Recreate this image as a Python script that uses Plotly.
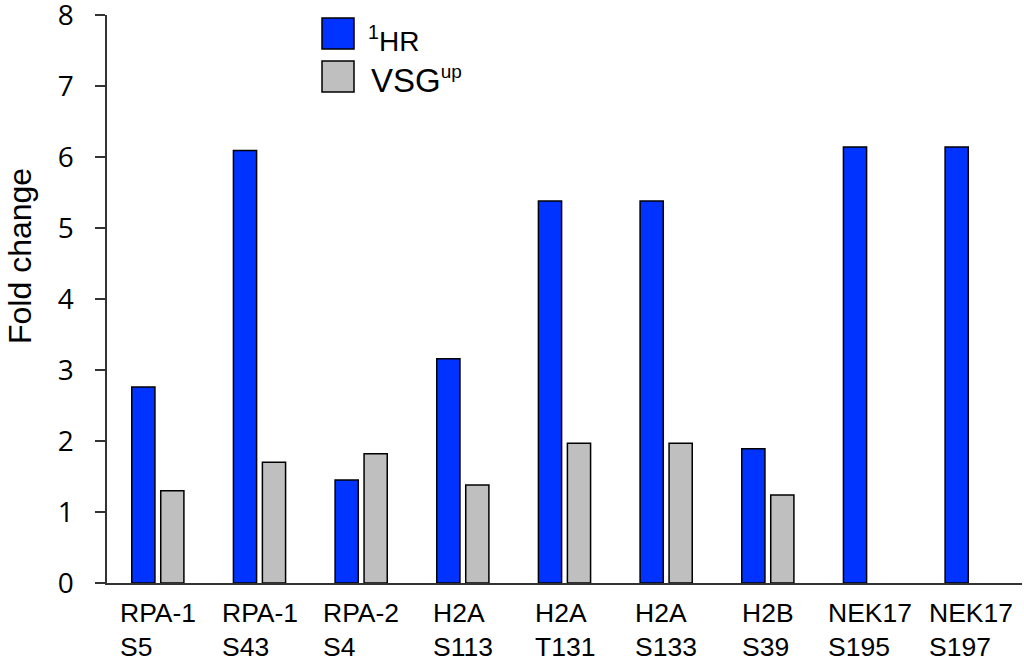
import plotly.graph_objects as go

categories = ["RPA-1<br>S5", "RPA-1<br>S43", "RPA-2<br>S4", "H2A<br>S113", "H2A<br>T131",
              "H2A<br>S133", "H2B<br>S39", "NEK17<br>S195", "NEK17<br>S197"]
hr_values = [2.76, 6.09, 1.45, 3.16, 5.38, 5.38, 1.89, 6.14, 6.14]
vsg_values = [1.30, 1.70, 1.82, 1.38, 1.97, 1.97, 1.24, None, None]
y_ticks = [0, 1, 2, 3, 4, 5, 6, 7, 8]

BLUE = "#0033FF"
GRAY = "#BFBFBF"
W, H = 1024, 663
L, R, T, B = 107, 2, 15, 80
pw, ph = W - L - R, H - T - B

def px_x(p):
    return (p - L) / pw

def px_y(p):
    return (H - B - p) / ph

fig = go.Figure()
fig.add_trace(go.Bar(x=categories, y=hr_values, name="<sup>1</sup>HR",
                     marker=dict(color=BLUE, line=dict(color="#000000", width=1.5)),
                     showlegend=False))
fig.add_trace(go.Bar(x=categories, y=vsg_values, name="VSG<sup>up</sup>",
                     marker=dict(color=GRAY, line=dict(color="#000000", width=1.5)),
                     showlegend=False))

# category labels (two-line, left-aligned block centred on category)
for c in categories:
    fig.add_annotation(x=c, xref="x", y=0, yref="paper", yanchor="top", yshift=-13,
                       text=c, showarrow=False, align="left", xanchor="center",
                       font=dict(family="Liberation Sans, Arial", size=26.5, color="#000000"))

# y-axis title
fig.add_annotation(x=px_x(20), y=px_y(256), xref="paper", yref="paper",
                   xanchor="center", yanchor="middle", textangle=-90, showarrow=False,
                   text="Fold change",
                   font=dict(family="Liberation Sans, Arial", size=32, color="#000000"))

# legend drawn as boxes + text
legend_boxes = [(BLUE, 18, 49), (GRAY, 61, 92)]
for col, y0, y1 in legend_boxes:
    fig.add_shape(type="rect", xref="paper", yref="paper",
                  x0=px_x(322), x1=px_x(354), y0=px_y(y1), y1=px_y(y0),
                  fillcolor=col, line=dict(color="#000000", width=1.5))
legend_texts = [("<sup>1</sup>HR", 366, 39, 28),
                ("VSG<sup><span style='font-size:19px'>up</span></sup>", 369, 80, 33)]
for text, xs, yc, fs in legend_texts:
    fig.add_annotation(x=px_x(xs), y=px_y(yc), xref="paper", yref="paper",
                       xanchor="left", yanchor="middle", text=text, showarrow=False,
                       font=dict(family="Liberation Sans, Arial", size=fs, color="#000000"))

fig.update_layout(
    width=W, height=H,
    margin=dict(l=L, r=R, t=T, b=B, pad=0, autoexpand=False),
    plot_bgcolor="white", paper_bgcolor="white",
    barmode="group", bargap=0.43, bargroupgap=0.2,
    font=dict(family="Liberation Sans, Arial", color="#000000"),
)
fig.update_xaxes(showline=True, linecolor="#333333", linewidth=1.5, ticks="",
                 showticklabels=False, showgrid=False, zeroline=False, automargin=False)
fig.update_yaxes(range=[0, 8], tickvals=y_ticks, showline=True, linecolor="#333333",
                 linewidth=1.5, ticks="outside", ticklen=10, tickwidth=1.5, tickcolor="#333333",
                 showgrid=False, zeroline=False, ticklabelstandoff=16, automargin=False,
                 ticklabeloverflow="allow",
                 tickfont=dict(family="Open Sans", size=28, color="#000000"))

fig.write_html("out.html", config={"displayModeBar": False},
               post_script="document.body.style.margin='0px';")
